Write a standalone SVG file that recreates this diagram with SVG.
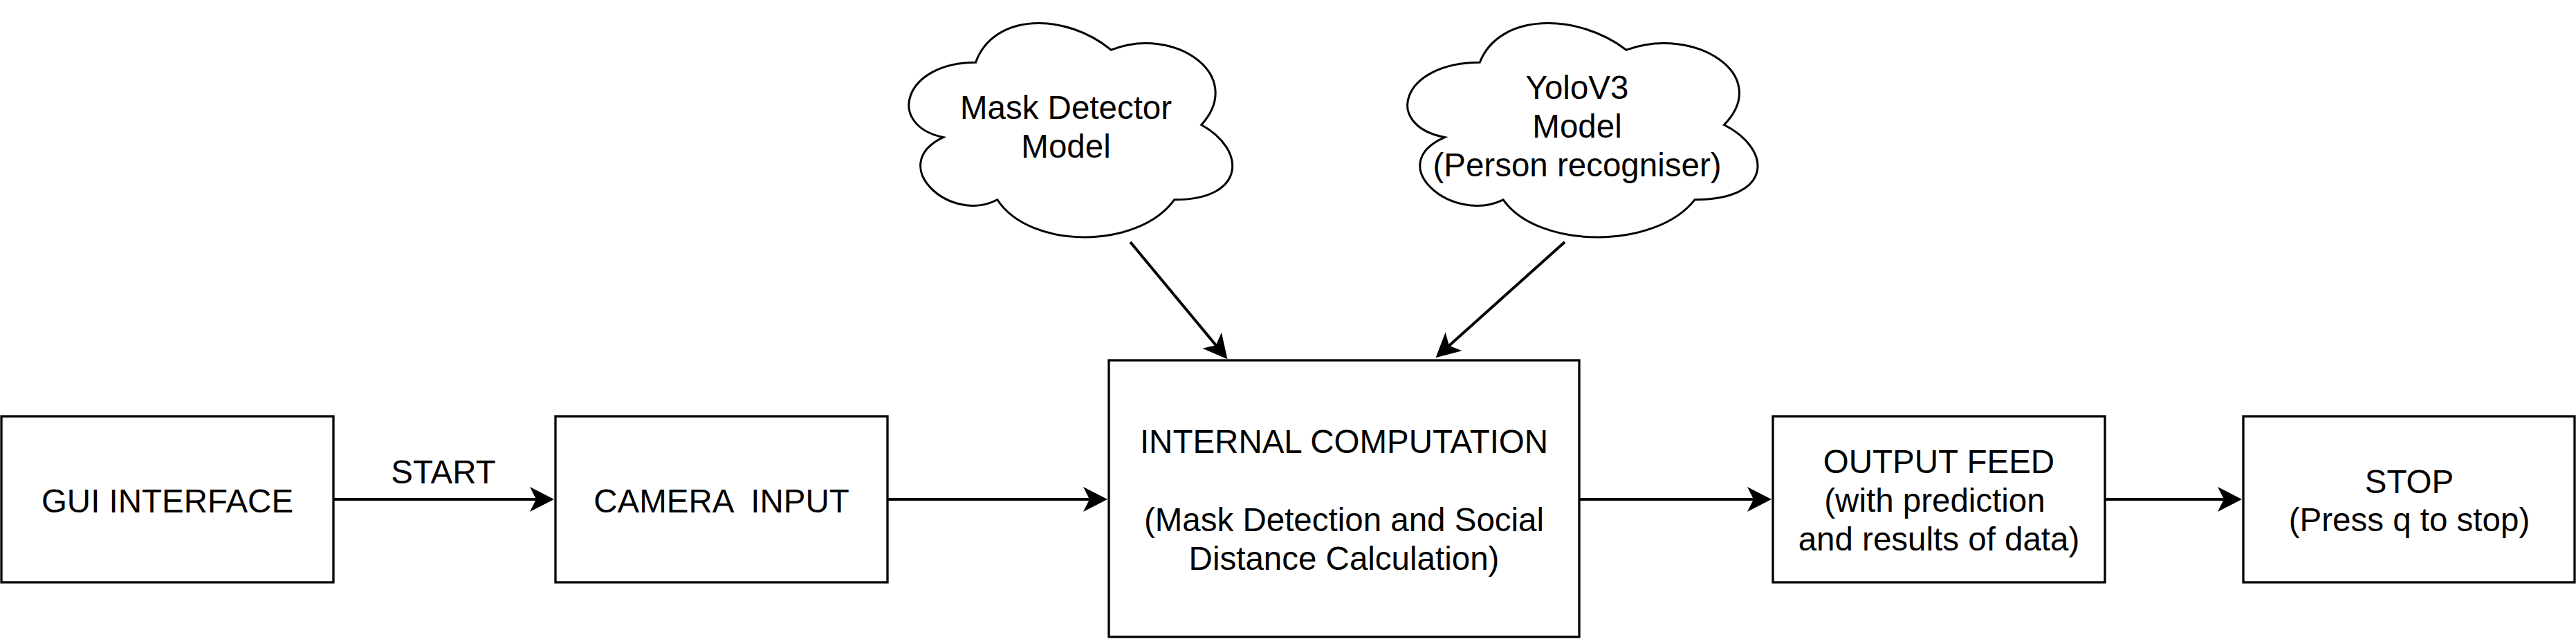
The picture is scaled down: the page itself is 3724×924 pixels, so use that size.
<svg xmlns="http://www.w3.org/2000/svg" width="3724" height="924" viewBox="0 0 3724 924">
<style>
.box{fill:#fff;stroke:#000;stroke-width:3.3}
.cloud{fill:#fff;stroke:#000;stroke-width:3}
.edge{fill:none;stroke:#000;stroke-width:4}
text{font-family:"Liberation Sans",Arial,Helvetica,sans-serif;font-size:47.5px;fill:#000;text-anchor:middle}
</style>
<defs>
<marker id="arrow" markerUnits="userSpaceOnUse" viewBox="-26 -19 37 38" markerWidth="37" markerHeight="38" refX="0" refY="0" orient="auto" overflow="visible">
<path d="M10,0 L-25,-18 L-16,0 L-25,18 Z" fill="#000"/>
</marker>
</defs>
<rect width="3724" height="924" fill="#fff"/>
<g id="connectors">
<path class="edge" d="M482,722 L791,722" marker-end="url(#arrow)"/>
<path class="edge" d="M1283,722 L1591,722" marker-end="url(#arrow)"/>
<path class="edge" d="M2283,722 L2551,722" marker-end="url(#arrow)"/>
<path class="edge" d="M3043,722 L3231,722" marker-end="url(#arrow)"/>
<path class="edge" d="M1634,350 L1768,511.5" marker-end="url(#arrow)"/>
<path class="edge" d="M2262,350 L2083,510.5" marker-end="url(#arrow)"/>
<text x="641" y="699">START</text>
</g>
<g id="gui">
<rect class="box" x="2" y="602" width="480" height="240"/>
<text x="242" y="741">GUI INTERFACE</text>
</g>
<g id="camera">
<rect class="box" x="803" y="602" width="480" height="240"/>
<text x="1043" y="741" xml:space="preserve">CAMERA  INPUT</text>
</g>
<g id="internal">
<rect class="box" x="1603" y="521" width="680" height="400"/>
<text x="1943" y="655">INTERNAL COMPUTATION</text>
<text x="1943" y="768">(Mask Detection and Social</text>
<text x="1943" y="824">Distance Calculation)</text>
</g>
<g id="output">
<rect class="box" x="2563" y="602" width="480" height="240"/>
<text x="2803" y="684">OUTPUT FEED</text>
<text x="2797" y="740">(with prediction</text>
<text x="2803" y="796">and results of data)</text>
</g>
<g id="stop">
<rect class="box" x="3243" y="602" width="479" height="240"/>
<text x="3483" y="713">STOP</text>
<text x="3483" y="768">(Press q to stop)</text>
</g>
<g id="mask-model">
<path class="cloud" d="M1410.5,90.25 C1306.1,90.25 1280,180.5 1363.5,198.55 C1280,238.26 1373.96,324.9 1441.82,288.8 C1488.8,361 1645.4,361 1697.6,288.8 C1802,288.8 1802,216.6 1736.75,180.5 C1802,108.3 1697.6,36.1 1606.25,72.2 C1541,18.05 1436.6,18.05 1410.5,90.25 Z"/>
<text x="1541" y="172">Mask Detector</text>
<text x="1541" y="228">Model</text>
</g>
<g id="yolo-model">
<path class="cloud" d="M2139.25,90.25 C2026.25,90.25 1998,180.5 2088.4,198.55 C1998,238.26 2099.7,324.9 2173.15,288.8 C2224,361 2393.5,361 2450,288.8 C2563,288.8 2563,216.6 2492.4,180.5 C2563,108.3 2450,36.1 2351.1,72.2 C2280.5,18.05 2167.5,18.05 2139.25,90.25 Z"/>
<text x="2280" y="143">YoloV3</text>
<text x="2280" y="199">Model</text>
<text x="2280" y="255">(Person recogniser)</text>
</g>
</svg>
